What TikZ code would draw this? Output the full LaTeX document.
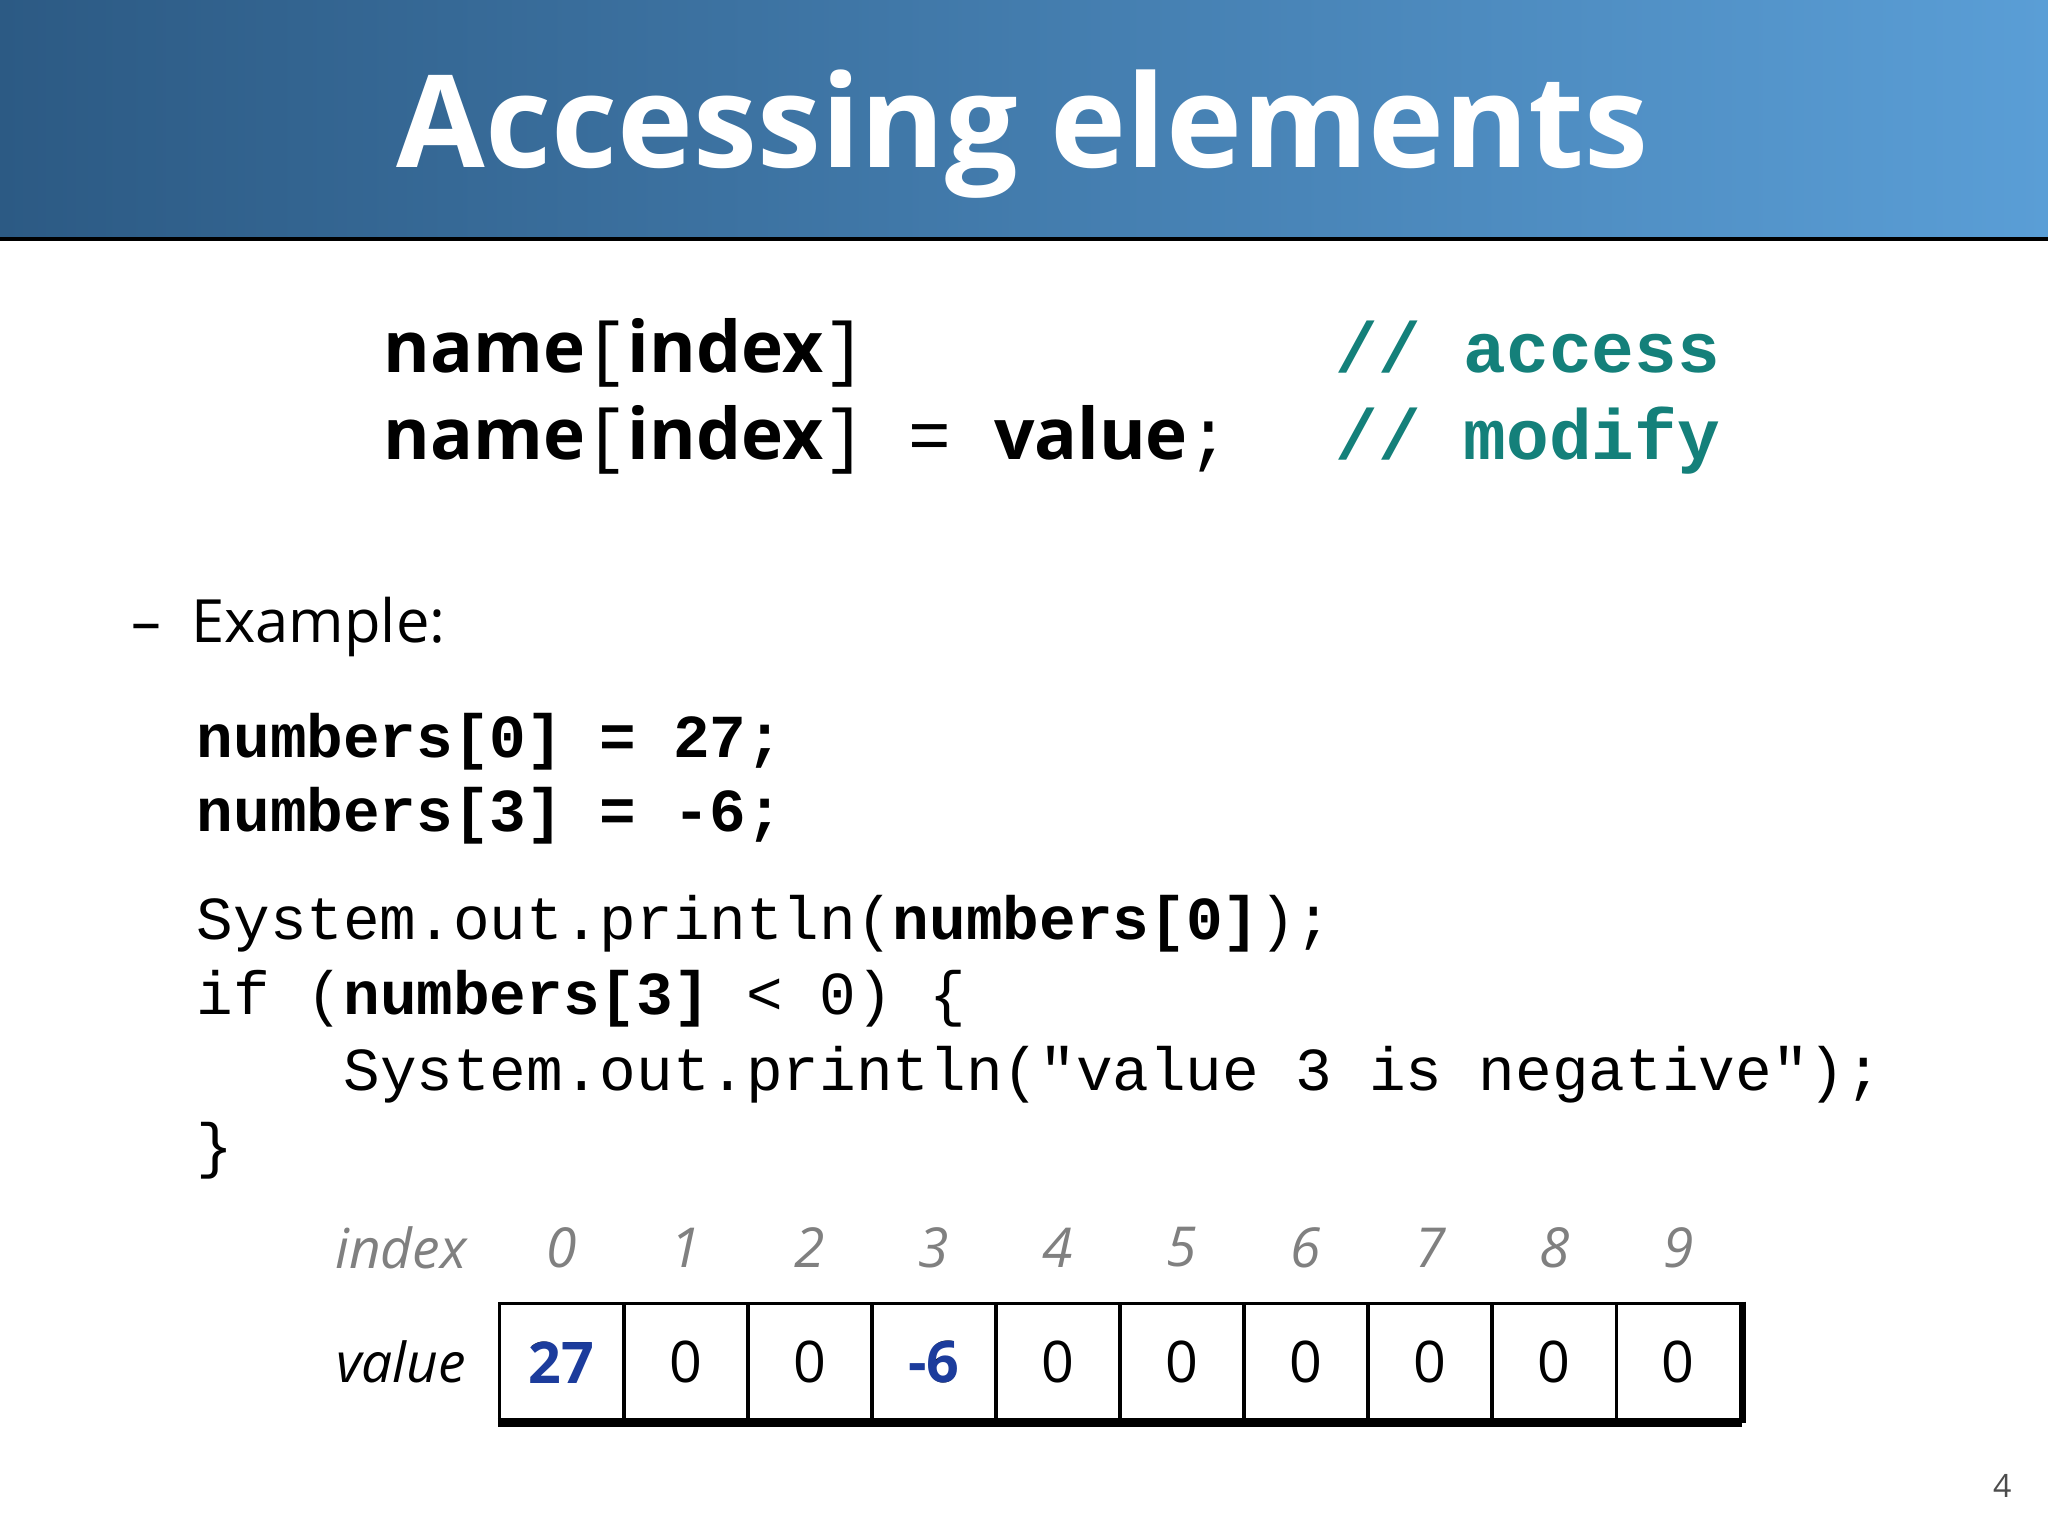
\documentclass[tikz,border=0pt]{standalone}
\usepackage{fontspec}
\setmainfont{Open Sans}
\setmonofont{Liberation Mono}
\definecolor{tdark}{HTML}{2C5A84}
\definecolor{tlight}{HTML}{5A9ED6}
\definecolor{cmt}{HTML}{14807A}
\definecolor{valblue}{HTML}{1C3C9C}
\definecolor{idxgray}{HTML}{808080}
\tikzset{
  codeline/.style={anchor=base west, inner sep=0pt, font=\fontsize{13.3}{16}\selectfont\ttfamily},
  bigline/.style={anchor=base west, inner sep=0pt, font=\fontsize{15.5}{18}\selectfont},
  cell/.style={draw, line width=0.8pt, minimum width=0.95cm, minimum height=0.9cm, inner sep=0pt, font=\fontsize{12.5}{15}\selectfont},
  idx/.style={font=\fontsize{12}{14}\selectfont\itshape, text=idxgray, inner sep=0pt}
}
\begin{document}
\begin{tikzpicture}
\useasboundingbox (0,0) rectangle (15.68,-11.76);
\fill[white] (0,0) rectangle (15.68,-11.76);
\shade[left color=tdark, right color=tlight] (0,0) rectangle (15.68,-1.83);
\draw[line width=0.8pt] (0,-1.83) -- (15.68,-1.83);
\node[text=white, font=\fontsize{28}{32}\selectfont\bfseries] (title) at (7.83,-1.03) {Accessing elements};
\node[bigline] (l1) at (2.93,-2.85) {\textbf{name}\texttt{[}\textbf{index}\texttt{]}};
\node[bigline] (l2) at (2.93,-3.52) {\textbf{name}\texttt{[}\textbf{index}\texttt{] = }\textbf{value}\texttt{;}};
\node[bigline, text=cmt, font=\fontsize{15.5}{18}\selectfont\ttfamily\bfseries] (c1) at (10.22,-2.85) {// access};
\node[bigline, text=cmt, font=\fontsize{15.5}{18}\selectfont\ttfamily\bfseries] (c2) at (10.22,-3.52) {// modify};
\node[anchor=base west, inner sep=0pt, font=\fontsize{13}{16}\selectfont] (ex) at (1.0,-4.92) {–\hspace{0.5em}Example:};
\node[codeline] (n0) at (1.5,-5.80) {\textbf{numbers[0] = 27;}};
\node[codeline] (n3) at (1.5,-6.37) {\textbf{numbers[3] = -6;}};
\node[codeline] (s1) at (1.5,-7.19) {System.out.println(\textbf{numbers[0]});};
\node[codeline] (s2) at (1.5,-7.77) {if (\textbf{numbers[3]} < 0) \{};
\node[codeline] (s3) at (1.5,-8.35) {~~~~System.out.println("value 3 is negative");};
\node[codeline] (s4) at (1.5,-8.93) {\}};
\node[idx] (il) at (3.07,-9.55) {index};
\node[font=\fontsize{12}{14}\selectfont\itshape, inner sep=0pt] (vl) at (3.07,-10.43) {value};
\foreach \i/\v in {0/27,1/0,2/0,3/-6,4/0,5/0,6/0,7/0,8/0,9/0}{
  \node[idx] (i\i) at ({4.30+0.95*\i},-9.55) {\i};
  \node[cell] (v\i) at ({4.30+0.95*\i},-10.43) {\v};
}
\node[cell, text=valblue, font=\fontsize{12.5}{15}\selectfont\bfseries] at (v0) {27};
\node[cell, text=valblue, font=\fontsize{12.5}{15}\selectfont\bfseries] at (v3) {-6};
\draw[line width=2pt] (v0.south west) -- (v9.south east);
\draw[line width=1.5pt] (v9.north east) -- (v9.south east);
\node[font=\fontsize{7}{8}\selectfont, text=black!70] (pg) at (15.33,-11.38) {4};
\end{tikzpicture}
\end{document}
